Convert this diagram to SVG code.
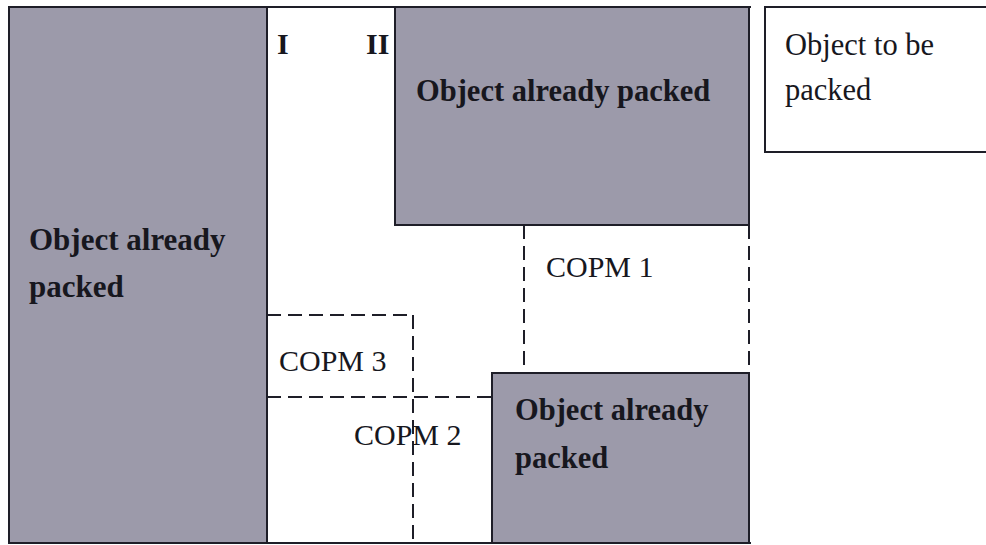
<svg xmlns="http://www.w3.org/2000/svg" width="986" height="545" viewBox="0 0 986 545">
  <defs>
    <style>
      .packed { fill: #9c9aaa; stroke: #1e1e28; stroke-width: 2; }
      .free { fill: #ffffff; stroke: #1e1e28; stroke-width: 2; }
      .dash { fill: none; stroke: #1e1e28; stroke-width: 2; stroke-dasharray: 14 7; }
      .solid { fill: none; stroke: #1e1e28; stroke-width: 2; }
    </style>
  </defs>
  <rect width="986" height="545" fill="#ffffff"/>

  <!-- container frame -->
  <g id="container">
    <line class="solid" x1="9" y1="7" x2="751" y2="7"/>
    <line class="solid" x1="9" y1="543" x2="751" y2="543"/>
  </g>

  <g id="packed-left">
    <rect class="packed" x="9" y="7" width="258" height="536"/>
    <g font-family="Liberation Serif" font-weight="bold" font-size="31" fill="#17171e">
      <text x="29" y="250">Object already</text>
      <text x="29" y="297">packed</text>
    </g>
  </g>

  <g id="packed-top">
    <rect class="packed" x="395" y="7" width="354" height="218"/>
    <text x="416" y="101" font-family="Liberation Serif" font-weight="bold" font-size="30.5" fill="#17171e">Object already packed</text>
  </g>

  <g id="packed-bottom">
    <rect class="packed" x="492" y="373" width="257" height="170"/>
    <g font-family="Liberation Serif" font-weight="bold" font-size="30.5" fill="#17171e">
      <text x="515" y="420">Object already</text>
      <text x="515" y="468">packed</text>
    </g>
  </g>

  <g id="to-be-packed">
    <rect class="free" x="765" y="7" width="224" height="145"/>
    <g font-family="Liberation Serif" font-size="30.5" fill="#17171e">
      <text x="785" y="55">Object to be</text>
      <text x="785" y="100">packed</text>
    </g>
  </g>

  <g id="labels" font-family="Liberation Serif" font-weight="bold" font-size="30" fill="#17171e">
    <text x="277" y="54">I</text>
    <text x="366" y="54">II</text>
  </g>

  <g id="connectors">
    <!-- COPM 1 -->
    <line class="dash" x1="524" y1="225" x2="524" y2="373"/>
    <line class="dash" x1="749" y1="225" x2="749" y2="373"/>
    <line class="dash" x1="524" y1="373" x2="749" y2="373"/>
    <!-- COPM 3 -->
    <line class="dash" x1="267" y1="315" x2="413" y2="315"/>
    <line class="dash" x1="413" y1="315" x2="413" y2="543"/>
    <!-- COPM 2 -->
    <line class="dash" x1="267" y1="397" x2="492" y2="397"/>
  </g>

  <g id="copm-labels" font-family="Liberation Serif" font-size="30" fill="#17171e">
    <text x="546" y="277">COPM 1</text>
    <text x="279" y="371">COPM 3</text>
    <text x="354" y="445">COPM 2</text>
  </g>
</svg>
